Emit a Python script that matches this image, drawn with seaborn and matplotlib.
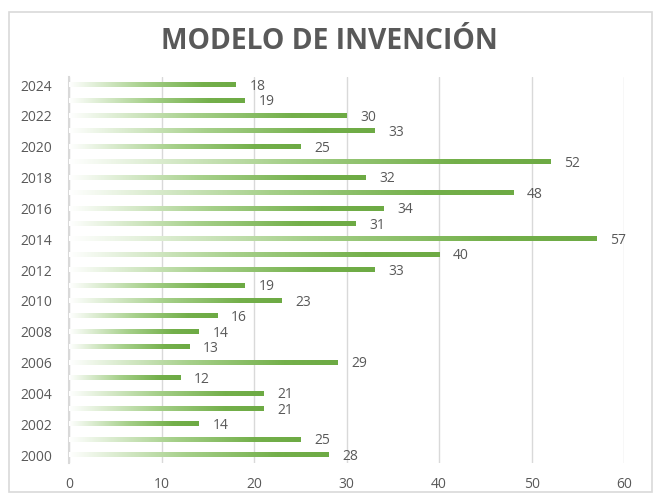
import numpy as np
import pandas as pd
import matplotlib
matplotlib.use("Agg")
import matplotlib.pyplot as plt
from matplotlib.colors import LinearSegmentedColormap
from matplotlib.patches import Rectangle
import seaborn as sns

years = list(range(2000, 2025))
values = [28, 25, 14, 21, 21, 12, 29, 13, 14, 16, 23, 19, 33, 40, 57, 31, 34, 48, 32, 52, 25, 33, 30, 19, 18]
title = "MODELO DE INVENCIÓN"
xticks = [0, 10, 20, 30, 40, 50, 60]

sns.set_theme(style="white")
plt.rcParams['font.family'] = ['Open Sans', 'DejaVu Sans']

df = pd.DataFrame({"year": [str(y) for y in years], "value": values})
order = [str(y) for y in reversed(years)]

fig = plt.figure(figsize=(6.57, 4.93), dpi=100)
ax = fig.add_axes([0.105, 0.0614, 0.845, 0.7818])

sns.barplot(data=df, x="value", y="year", order=order, orient="h",
            width=0.28, color="#70AD47", ax=ax)

cmap = LinearSegmentedColormap.from_list(
    "g", [(0, "#FFFFFF"), (0.45, "#A6D08A"), (0.8, "#74B04B"), (1, "#6DAA44")])
grad = np.linspace(0, 1, 256).reshape(1, -1)
for p in ax.patches:
    x0, y0 = p.get_x(), p.get_y()
    w, h = p.get_width(), p.get_height()
    ax.imshow(grad, extent=[x0, x0 + w, y0 + h, y0], aspect="auto",
              cmap=cmap, zorder=3, interpolation="bilinear")
    p.set_facecolor("none")
    p.set_edgecolor("none")

txtc = "#595959"
for i, yl in enumerate(order):
    v = values[years.index(int(yl))]
    ax.annotate(str(v), (v, i), xytext=(10, -1), textcoords="offset points",
                va="center", ha="left", fontsize=10, color=txtc)

ax.set_xlim(0, 60)
ax.set_ylim(len(order) - 0.5, -0.5)
ax.set_xticks(xticks)
ax.set_xticklabels([str(t) for t in xticks])
ax.set_yticks([i for i, yl in enumerate(order) if int(yl) % 2 == 0])
ax.set_yticklabels([yl for yl in order if int(yl) % 2 == 0])
ax.tick_params(axis="both", colors=txtc, labelsize=10, length=0)
ax.tick_params(axis="x", pad=10)
ax.tick_params(axis="y", pad=12)
ax.set_xlabel("")
ax.set_ylabel("")
ax.xaxis.grid(True, color="#D9D9D9", linewidth=1)
ax.set_axisbelow(True)
for s in ["top", "right", "bottom"]:
    ax.spines[s].set_visible(False)
ax.spines["left"].set_color("#D9D9D9")
ax.spines["left"].set_linewidth(1.5)

fig.text(0.502, 0.915, title, ha="center", va="center", fontsize=20.3,
         fontweight="bold", color=txtc)

fig.patches.append(Rectangle((0.0137, 0.003), 0.979, 0.973, transform=fig.transFigure,
                             fill=False, edgecolor="#D9D9D9", linewidth=1.2))

fig.savefig("out.png", dpi=100, facecolor="white")
